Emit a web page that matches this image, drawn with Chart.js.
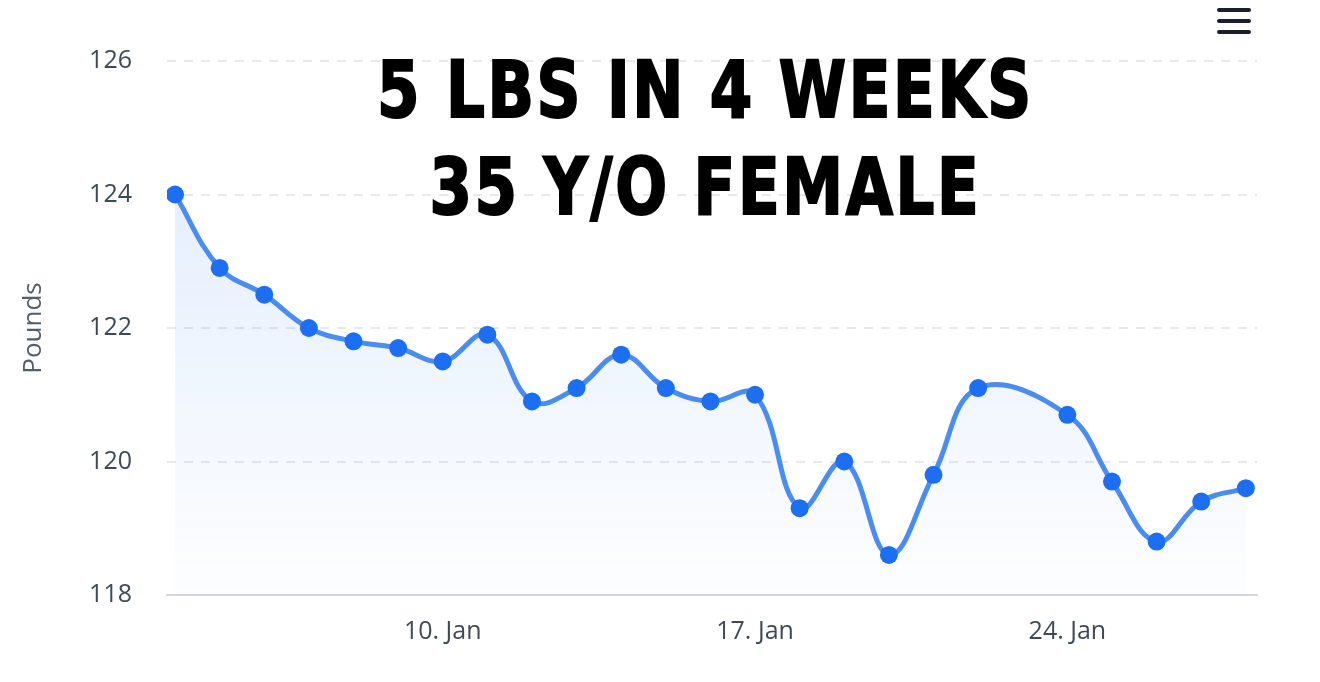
<!DOCTYPE html>
<html>
<head>
<meta charset="utf-8">
<script src="https://cdn.jsdelivr.net/npm/chart.js@4.4.1/dist/chart.umd.min.js"></script>
<style>
  html, body { margin: 0; padding: 0; background: #fff; }
  #wrap { position: relative; width: 1320px; height: 682px; }
  #headline {
    position: absolute; left: 0; width: 1411px; top: 42px;
    text-align: center; font-family: "DejaVu Sans"; font-weight: bold;
    font-stretch: condensed; font-size: 78px; line-height: 97px; letter-spacing: 3px;
    color: #000; pointer-events: none; -webkit-text-stroke: 2px #000;
    transform: scaleX(0.87); transform-origin: 705px 0;
  }
  .bar { position: absolute; left: 1217px; width: 34px; height: 4px; border-radius: 2px; background: #1a1f2b; }
</style>
</head>
<body>
<div id="wrap">
  <canvas id="myChart" width="1320" height="682"></canvas>
  <div id="headline">5 LBS IN 4 WEEKS<br>35 Y/O FEMALE</div>
  <div class="bar" style="top:8px"></div>
  <div class="bar" style="top:19px"></div>
  <div class="bar" style="top:30px"></div>
</div>
<script>
// day of January
const days = [4, 5, 6, 7, 8, 9, 10, 11, 12, 13, 14, 15, 16, 17, 18, 19, 20, 21, 22, 23, 24, 25, 26, 27, 28];
// weight in pounds (no entry on the 23rd)
const pounds = [124.0, 122.9, 122.5, 122.0, 121.8, 121.7, 121.5, 121.9, 120.9, 121.1, 121.6, 121.1, 120.9, 121.0,
  119.3, 120.0, 118.6, 119.8, 121.1, null, 120.7, 119.7, 118.8, 119.4, 119.6];
const xTicks = [10, 17, 24];
const yTicks = [118, 120, 122, 124, 126];

const tickFont = { family: '"Open Sans", sans-serif', size: 25 };

const ctx = document.getElementById('myChart');
new Chart(ctx, {
  type: 'line',
  data: {
    datasets: [{
      data: days.map((d, i) => ({ x: d, y: pounds[i] })),
      borderColor: '#4a8df2',
      borderWidth: 5,
      pointRadius: 9,
      pointBackgroundColor: '#1c6ff2',
      pointBorderWidth: 0,
      tension: 0.4,
      spanGaps: true,
      fill: 'start',
      backgroundColor: (c) => {
        const area = c.chart.chartArea;
        if (!area) return 'rgba(74,141,242,0.1)';
        const g = c.chart.ctx.createLinearGradient(0, area.top + 130, 0, area.bottom);
        g.addColorStop(0, 'rgba(74,141,242,0.14)');
        g.addColorStop(1, 'rgba(74,141,242,0.01)');
        return g;
      }
    }]
  },
  options: {
    responsive: false,
    animation: false,
    layout: { padding: { top: 61, right: 63, left: 0, bottom: 0 } },
    plugins: { legend: { display: false }, tooltip: { enabled: false } },
    scales: {
      x: {
        type: 'linear',
        min: 3.82,
        max: 28.25,
        afterBuildTicks: (s) => { s.ticks = xTicks.map(v => ({ value: v })); },
        afterFit: (s) => { s.height = 87; },
        ticks: {
          padding: 14,
          color: '#3e4a55',
          font: tickFont,
          callback: (v) => v + '. Jan'
        },
        grid: { display: false },
        border: { display: true, color: '#d3d6da', width: 2 }
      },
      y: {
        min: 118,
        max: 126,
        afterBuildTicks: (s) => { s.ticks = yTicks.map(v => ({ value: v })); },
        afterFit: (s) => { s.width = 167; },
        ticks: { padding: 35, color: '#3e4a55', font: tickFont },
        grid: {
          color: (c) => c.tick && c.tick.value === 118 ? 'rgba(0,0,0,0)' : '#e6e9ed',
          lineWidth: 2,
          drawTicks: false
        },
        border: { display: false, dash: [9, 8] },
        title: {
          display: true,
          text: 'Pounds',
          color: '#555e66',
          font: { family: '"Open Sans", sans-serif', size: 26 },
          padding: { top: 18, bottom: 0 }
        }
      }
    }
  }
});
</script>
</body>
</html>
